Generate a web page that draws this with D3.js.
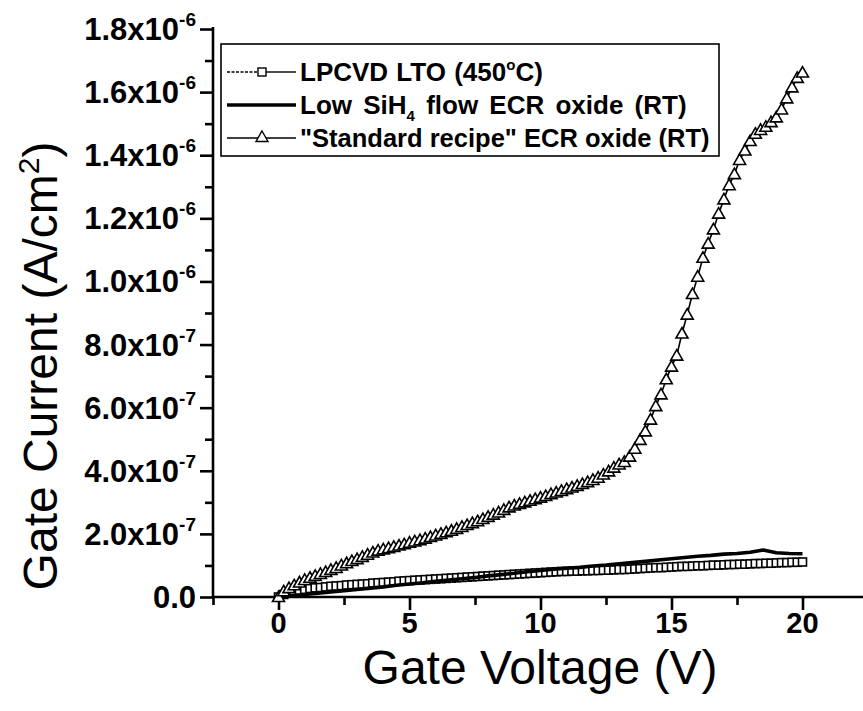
<!DOCTYPE html>
<html>
<head>
<meta charset="utf-8">
<script src="https://cdn.jsdelivr.net/npm/d3@7"></script>
<style>
	body { margin: 0; background: #fff; }
	svg { display: block; }
</style>
</head>
<body>
<svg id="chart" width="863" height="711"></svg>
<script>
(function () {

	// currents are in units of 1e-7 A/cm^2, voltage sweep 0..20 V in 0.2 V steps
	var sweepV = d3.range(101).map(i => Math.round(i * 2) / 10);

	var lpcvdI = [
		0.00, 0.08, 0.14, 0.18, 0.21, 0.24, 0.27, 0.29, 0.30, 0.32,
		0.34, 0.35, 0.36, 0.38, 0.39, 0.40, 0.41, 0.42, 0.44, 0.45,
		0.46, 0.47, 0.48, 0.50, 0.51, 0.52, 0.53, 0.54, 0.55, 0.56,
		0.57, 0.58, 0.59, 0.60, 0.61, 0.62, 0.63, 0.64, 0.65, 0.66,
		0.67, 0.68, 0.69, 0.70, 0.71, 0.72, 0.73, 0.74, 0.75, 0.76,
		0.77, 0.78, 0.79, 0.80, 0.81, 0.81, 0.82, 0.82, 0.83, 0.83,
		0.84, 0.84, 0.85, 0.85, 0.86, 0.87, 0.87, 0.88, 0.89, 0.90,
		0.91, 0.92, 0.93, 0.93, 0.94, 0.95, 0.96, 0.97, 0.97, 0.98,
		0.99, 0.99, 1.00, 1.01, 1.01, 1.02, 1.03, 1.03, 1.04, 1.04,
		1.05, 1.06, 1.06, 1.07, 1.07, 1.08, 1.09, 1.09, 1.10, 1.10,
		1.11
	];

	var standardI = [
		0.00, 0.18, 0.28, 0.37, 0.46, 0.54, 0.61, 0.67, 0.73, 0.79,
		0.86, 0.92, 1.00, 1.07, 1.14, 1.20, 1.27, 1.34, 1.41, 1.47,
		1.51, 1.55, 1.59, 1.63, 1.67, 1.72, 1.76, 1.80, 1.85, 1.90,
		1.95, 2.00, 2.05, 2.10, 2.16, 2.22, 2.28, 2.34, 2.40, 2.47,
		2.54, 2.61, 2.68, 2.76, 2.84, 2.90, 2.95, 3.00, 3.05, 3.10,
		3.15, 3.20, 3.26, 3.31, 3.36, 3.42, 3.47, 3.52, 3.58, 3.64,
		3.71, 3.78, 3.88, 3.98, 4.10, 4.20, 4.28, 4.45, 4.70, 4.98,
		5.25, 5.62, 6.05, 6.42, 6.90, 7.30, 7.65, 8.35, 8.95, 9.60,
		10.15, 10.75, 11.20, 11.65, 12.15, 12.60, 13.05, 13.40, 13.85, 14.15,
		14.45, 14.68, 14.80, 14.90, 15.05, 15.20, 15.45, 15.80, 16.15, 16.45,
		16.62
	];

	// low SiH4 flow run, 0.5 V steps
	var lowSiH4V = d3.range(41).map(i => i / 2);
	var lowSiH4I = [
		0.00, 0.04, 0.08, 0.12, 0.16, 0.20, 0.24, 0.28, 0.32, 0.37,
		0.41, 0.45, 0.50, 0.54, 0.58, 0.62, 0.67, 0.71, 0.75, 0.80,
		0.84, 0.88, 0.91, 0.94, 0.98, 1.01, 1.05, 1.09, 1.13, 1.17,
		1.21, 1.25, 1.29, 1.32, 1.36, 1.38, 1.42, 1.49, 1.40, 1.38,
		1.37
	];

	var yTicks = [0, 2, 4, 6, 8, 10, 12, 14, 16, 18];
	var yTickMantissa = ["0.0", "2.0", "4.0", "6.0", "8.0", "1.0", "1.2", "1.4", "1.6", "1.8"];
	var yTickExp = ["", "-7", "-7", "-7", "-7", "-6", "-6", "-6", "-6", "-6"];
	var xTicks = [0, 5, 10, 15, 20];

	var legendNames = [
		[["LPCVD LTO (450", ""], ["o", "sup"], ["C)", ""]],
		[["Low SiH", ""], ["4", "sub"], [" flow ECR oxide (RT)", ""]],
		[["\"Standard recipe\" ECR oxide (RT)", ""]]
	];

	var svg = d3.select('#chart');

	var xScale = d3.scaleLinear().domain([-2.5, 22.5]).range([213, 868]);
	var yScale = d3.scaleLinear().domain([0, 18]).range([597, 29]);

	// axes
	var xAxis = svg.append("g")
		.attr('transform', 'translate(0,' + yScale(0) + ')')
		.call(d3.axisBottom(xScale).tickValues(d3.range(-2.5, 22.6, 2.5)).tickSize(8).tickFormat(""));
	xAxis.selectAll('.tick line').attr('y2', d => (d % 5 == 0) ? 13 : 8);
	xAxis.select('.domain').attr('d', 'M213,0H863');

	var yAxis = svg.append("g")
		.attr('transform', 'translate(' + xScale(-2.5) + ',0)')
		.call(d3.axisLeft(yScale).tickValues(d3.range(0, 18.1, 1)).tickSize(8).tickFormat(""));
	yAxis.selectAll('.tick line').attr('x2', d => (d % 2 == 0) ? -13 : -8);
	yAxis.select('.domain').attr('d', 'M0,' + (yScale(0) + 1) + 'V' + (yScale(18) - 2));

	svg.selectAll('.domain, .tick line')
		.attr('stroke', '#000')
		.attr('stroke-width', 2.6);

	svg.selectAll('.xlab').data(xTicks)
		.enter().append('text')
		.attr('class', 'xlab')
		.attr('x', d => xScale(d))
		.attr('y', 633)
		.attr('text-anchor', 'middle')
		.style('font', 'bold 29px "Liberation Sans", Arial, sans-serif')
		.text(d => d);

	var ylabs = svg.selectAll('.ylab').data(yTicks)
		.enter().append('text')
		.attr('class', 'ylab')
		.attr('x', 196)
		.attr('y', d => yScale(d) + 11)
		.attr('text-anchor', 'end')
		.style('font', 'bold 31px "Liberation Sans", Arial, sans-serif');
	ylabs.append('tspan').text((d, i) => yTickMantissa[i] + (yTickExp[i] ? 'x10' : ''));
	ylabs.append('tspan')
		.attr('dy', -14)
		.style('font-size', '19px')
		.text((d, i) => yTickExp[i]);

	// axis titles
	svg.append('text')
		.attr('x', 540)
		.attr('y', 684)
		.attr('text-anchor', 'middle')
		.style('font', '48px "Liberation Sans", Arial, sans-serif')
		.text('Gate Voltage (V)');

	var yTitle = svg.append('text')
		.attr('transform', 'translate(57,366) rotate(-90)')
		.attr('text-anchor', 'middle')
		.style('font', '48px "Liberation Sans", Arial, sans-serif');
	yTitle.append('tspan').text('Gate Current (A/cm');
	yTitle.append('tspan').attr('dy', -18).style('font-size', '30px').text('2');
	yTitle.append('tspan').attr('dy', 18).text(')');

	// series
	var lpcvd = sweepV.map((v, i) => ({v: v, i: lpcvdI[i]}));
	var standard = sweepV.map((v, i) => ({v: v, i: standardI[i]}));
	var lowSiH4 = lowSiH4V.map((v, i) => ({v: v, i: lowSiH4I[i]}));

	var line = d3.line().x(d => xScale(d.v)).y(d => yScale(d.i));
	var triPath = 'M0,-6L6,4.5L-6,4.5Z';

	svg.append('path').datum(lpcvd)
		.attr('d', line).attr('fill', 'none')
		.attr('stroke', '#000').attr('stroke-width', 1.4);
	svg.selectAll('.sq').data(lpcvd)
		.enter().append('rect')
		.attr('class', 'sq')
		.attr('x', d => xScale(d.v) - 4)
		.attr('y', d => yScale(d.i) - 4)
		.attr('width', 8).attr('height', 8)
		.attr('fill', '#fff').attr('stroke', '#000').attr('stroke-width', 1.6);

	svg.append('path').datum(lowSiH4)
		.attr('d', line).attr('fill', 'none')
		.attr('stroke', '#000').attr('stroke-width', 3.6)
		.attr('stroke-linejoin', 'round');

	svg.append('path').datum(standard)
		.attr('d', line).attr('fill', 'none')
		.attr('stroke', '#000').attr('stroke-width', 1.6);
	svg.selectAll('.tri').data(standard)
		.enter().append('path')
		.attr('class', 'tri')
		.attr('d', triPath)
		.attr('transform', d => 'translate(' + xScale(d.v) + ',' + yScale(d.i) + ')')
		.attr('fill', '#fff').attr('stroke', '#000').attr('stroke-width', 1.6);

	// legend
	var legend = svg.append('g');
	legend.append('rect')
		.attr('x', 221).attr('y', 44)
		.attr('width', 498).attr('height', 112)
		.attr('fill', '#fff').attr('stroke', '#000').attr('stroke-width', 1.6);

	var rowY = [72, 105, 138];
	var rowFont = ['26px', '26px', '25.5px'];
	var rowWordSpacing = ['1px', '4px', '0px'];
	legend.append('line').attr('x1', 227).attr('x2', 258).attr('y1', rowY[0]).attr('y2', rowY[0])
		.attr('stroke', '#000').attr('stroke-width', 1.4).attr('stroke-dasharray', '3,1.5');
	legend.append('line').attr('x1', 266).attr('x2', 296).attr('y1', rowY[0]).attr('y2', rowY[0])
		.attr('stroke', '#000').attr('stroke-width', 1.4);
	legend.append('rect').attr('x', 258).attr('y', rowY[0] - 4).attr('width', 8).attr('height', 8)
		.attr('fill', '#fff').attr('stroke', '#000').attr('stroke-width', 1.4);

	legend.append('line').attr('x1', 227).attr('x2', 296).attr('y1', rowY[1]).attr('y2', rowY[1])
		.attr('stroke', '#000').attr('stroke-width', 3.4);

	legend.append('line').attr('x1', 227).attr('x2', 296).attr('y1', rowY[2]).attr('y2', rowY[2])
		.attr('stroke', '#000').attr('stroke-width', 1.4);
	legend.append('path').attr('d', triPath)
		.attr('transform', 'translate(262,' + (rowY[2] - 1) + ')')
		.attr('fill', '#fff').attr('stroke', '#000').attr('stroke-width', 1.4);

	legendNames.forEach(function(parts, r) {
		var t = legend.append('text')
			.attr('x', 300)
			.attr('y', rowY[r] + 9)
			.style('font', 'bold ' + rowFont[r] + ' "Liberation Sans", Arial, sans-serif')
			.style('word-spacing', rowWordSpacing[r]);
		parts.forEach(function(p, k) {
			var s = t.append('tspan').text(p[0]);
			if (p[1] == 'sup') s.attr('dy', -11).style('font-size', '15px');
			if (p[1] == 'sub') s.attr('dy', 7).style('font-size', '15px');
			if (p[1] == '' && k > 0) {
				if (parts[k - 1][1] == 'sup') s.attr('dy', 11);
				if (parts[k - 1][1] == 'sub') s.attr('dy', -7);
			}
		});
	});

}());
</script>
</body>
</html>
